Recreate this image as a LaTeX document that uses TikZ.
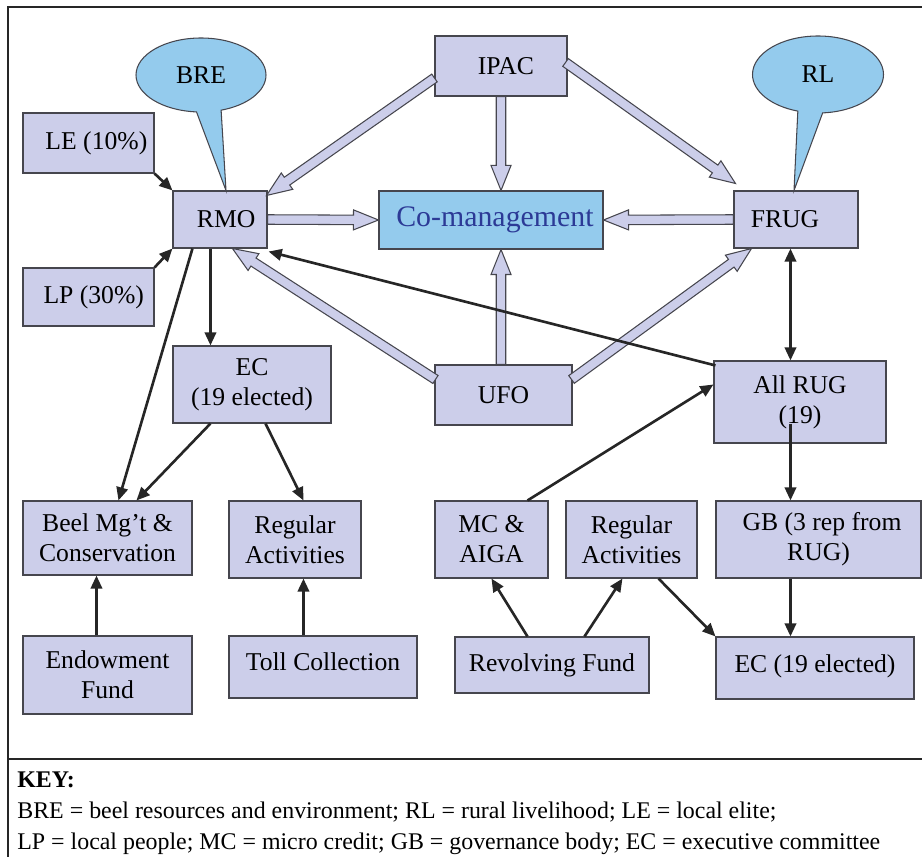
\documentclass[tikz,border=0pt]{standalone}
\usepackage{fontspec}
\setmainfont{Liberation Serif}[Ligatures=TeX]
\newfontfamily\diagfont{Liberation Serif}
\usetikzlibrary{
	positioning,     % relative placement
	arrows.meta,     % arrow tips (Triangle)
	calc,            % points along and across the block arrows
	shapes.callouts  % the BRE and RL bubbles
}
\definecolor{boxfill}{RGB}{204,206,234}
\definecolor{boxline}{RGB}{70,70,78}
\definecolor{bubblefill}{RGB}{148,203,237}
\definecolor{comtext}{RGB}{44,58,150}

\tikzset{
	box/.style={draw=boxline, fill=boxfill, line width=0.6pt, inner sep=2pt,
		align=center, font=\diagfont\fontsize{14.6}{17}\selectfont},
	sz/.style 2 args={minimum width=#1*0.02cm, minimum height=#2*0.02cm},
	bubble/.style={ellipse callout, draw=boxline, fill=bubblefill, line width=0.6pt,
		inner sep=0pt, callout pointer arc=22, font=\diagfont\fontsize{14.6}{17}\selectfont},
	link/.style={-{Triangle[length=7.5pt,width=6.5pt]}, line width=1.5pt, draw=black!85},
	fat/.style={draw=boxline, fill=boxfill, line width=0.6pt},
	frame/.style={line width=1.5pt, draw=black!85},
	keytext/.style={anchor=base west, inner sep=0pt, font=\diagfont\fontsize{13.6}{15}\selectfont}
}

% hollow block arrow from #1 to #2 (shaft, then head)
\newcommand{\fatarrow}[2]{%
	\draw[fat] ($(#1)!0.095cm!90:(#2)$)
	-- ($(#2)!0.5cm!(#1)!0.095cm!90:(#2)$)
	-- ($(#2)!0.5cm!(#1)!0.2cm!90:(#2)$)
	-- (#2)
	-- ($(#2)!0.5cm!(#1)!0.2cm!-90:(#2)$)
	-- ($(#2)!0.5cm!(#1)!0.095cm!-90:(#2)$)
	-- ($(#1)!0.095cm!-90:(#2)$) -- cycle;}

\begin{document}
\begin{tikzpicture}[x=0.02cm, y=-0.02cm]
	\useasboundingbox (0,0) rectangle (922,857);
	
	% --- Frame ---
	\draw[frame] (922,7) -- (8,7) -- (8,857);
	\draw[frame] (8,759) -- (922,759);
	
	% --- Top row ---
	\node[box, sz={131}{60}] (le) at (88.5,143) {\hspace*{9pt}LE (10\%)};
	\node[box, sz={94}{57}] (rmo) at (220,219.5) {\hspace*{7pt}RMO};
	\node[box, sz={131}{58}] (lp) at (88.5,297) {\hspace*{6pt}LP (30\%)};
	\node[box, sz={132}{60}] (ipac) at (501,66) {\hspace*{5.5pt}IPAC};
	\node[box, sz={224}{58}, fill=bubblefill, text=comtext,
		font=\diagfont\fontsize{17}{20}\selectfont] (comgmt) at (491,220) {\hspace*{4.5pt}Co-management};
	\node[box, sz={124}{57}] (frug) at (796,219.5) {FRUG\hspace*{12.5pt}};
	
	% --- Bubbles ---
	\node[bubble, sz={130}{74}, callout absolute pointer={($(rmo.north)+(6,0)$)}]
		(bre) at (201,75) {BRE};
	\node[bubble, sz={131}{77}, callout absolute pointer={($(frug.north)+(-2,0)$)}]
		(rl) at (818,74.5) {RL};
	
	% --- Middle row ---
	\node[box, sz={158}{77}] (ec) at (252,384.5) {EC\\(19 elected)};
	\node[box, sz={137}{60}] (ufo) at (503.5,395) {UFO};
	\node[box, sz={172}{82}] (allrug) at (800,402) {All RUG\\(19)};
	
	% --- Activities ---
	\node[box, sz={169}{74}] (beel) at (107.5,538) {Beel Mg’t \&\\Conservation};
	\node[box, sz={132}{77}] (regl) at (295,539.5) {Regular\\Activities};
	\node[box, sz={113}{77}] (mc) at (491.5,539.5) {MC \&\\AIGA};
	\node[box, sz={131}{77}] (regr) at (631.5,539.5) {Regular\\Activities};
	\node[box, sz={205}{77}] (gb) at (818.5,539.5) {\hspace*{4pt}GB (3 rep from\\RUG)};
	
	% --- Funds ---
	\node[box, sz={169}{78}] (endow) at (107.5,675) {Endowment\\Fund};
	\node[box, sz={188}{62}] (toll) at (323,667) {\raisebox{5.6pt}{Toll Collection}};
	\node[box, sz={194}{56}] (revolv) at (552,665) {Revolving Fund};
	\node[box, sz={198}{62}] (ecr) at (815,668) {\raisebox{4.5pt}{EC (19 elected)}};
	
	% --- Block arrows ---
	\coordinate (ipacW) at ($(ipac.west)+(0,12)$);
	\coordinate (rmoNE) at ($(rmo.north east)+(-1,5)$);
	\coordinate (ipacE) at ($(ipac.north east)+(-2,27)$);
	\coordinate (frugNW) at ($(frug.north west)+(2,-7)$);
	\coordinate (comN) at (ipac.south |- comgmt.north);
	\coordinate (ufoN) at (ipac.south |- ufo.north);
	\coordinate (comS) at (ipac.south |- comgmt.south);
	\coordinate (ufoW) at ($(ufo.north west)+(1,15)$);
	\coordinate (rmoS) at ($(rmo.south west)+(60,0)$);
	\coordinate (ufoE) at ($(ufo.north east)+(-1,15)$);
	\coordinate (frugSW) at ($(frug.south west)+(18,0)$);
	
	\fatarrow{ipacW}{rmoNE}
	\fatarrow{ipac.south}{comN}
	\fatarrow{ipacE}{frugNW}
	\fatarrow{rmo.east}{comgmt.west}
	\fatarrow{frug.west}{comgmt.east}
	\fatarrow{ufoN}{comS}
	\fatarrow{ufoW}{rmoS}
	\fatarrow{ufoE}{frugSW}
	
	% --- Left links ---
	\draw[link] (le.south east) -- (rmo.north west);
	\draw[link] (lp.north east) -- (rmo.south west);
	\draw[link] ($(rmo.south west)+(38,0)$) -- ($(ec.north west)+(38,0)$);
	\draw[link] ($(rmo.south west)+(20,0)$) -- ($(beel.north west)+(96,0)$);
	\draw[link] ($(ec.south west)+(38,0)$) -- ($(beel.north west)+(114,0)$);
	\draw[link] ($(ec.south west)+(93,0)$) -- ($(regl.north west)+(75,0)$);
	\draw[link] ($(endow.north west)+(74,0)$) -- ($(beel.south west)+(74,0)$);
	\draw[link] ($(toll.north west)+(75,0)$) -- ($(regl.south west)+(75,0)$);
	
	% --- Right links ---
	\draw[link] ($(allrug.north west)+(2,5)$) -- ($(rmo.south east)+(1,3)$);
	\draw[link, {Triangle[length=7.5pt,width=6.5pt]}-{Triangle[length=7.5pt,width=6.5pt]}]
		($(frug.south west)+(57,0)$) -- ($(allrug.north west)+(77,0)$);
	\draw[link] ($(allrug.south west)+(77,-20)$) -- ($(gb.north west)+(75,0)$);
	\draw[link] ($(gb.south west)+(75,0)$) -- ($(ecr.north west)+(75,0)$);
	\draw[link] ($(mc.north west)+(93,0)$) -- ($(allrug.north west)+(0,24)$);
	\draw[link] ($(revolv.north west)+(73,0)$) -- ($(mc.south west)+(57,0)$);
	\draw[link] ($(revolv.north west)+(130,0)$) -- ($(regr.south west)+(57,0)$);
	\draw[link] ($(regr.south west)+(93,0)$) -- (ecr.north west);
	
	% --- Key ---
	\node[keytext, font=\diagfont\fontsize{13.6}{15}\selectfont\bfseries] (keyhead) at (17,787) {KEY:};
	\node[keytext] (keyone) at (17,818)
		{BRE = beel resources and environment; RL = rural livelihood; LE = local elite;};
	\node[keytext] (keytwo) at (17,849)
		{LP = local people; MC = micro credit; GB = governance body; EC = executive committee};
\end{tikzpicture}
\end{document}
